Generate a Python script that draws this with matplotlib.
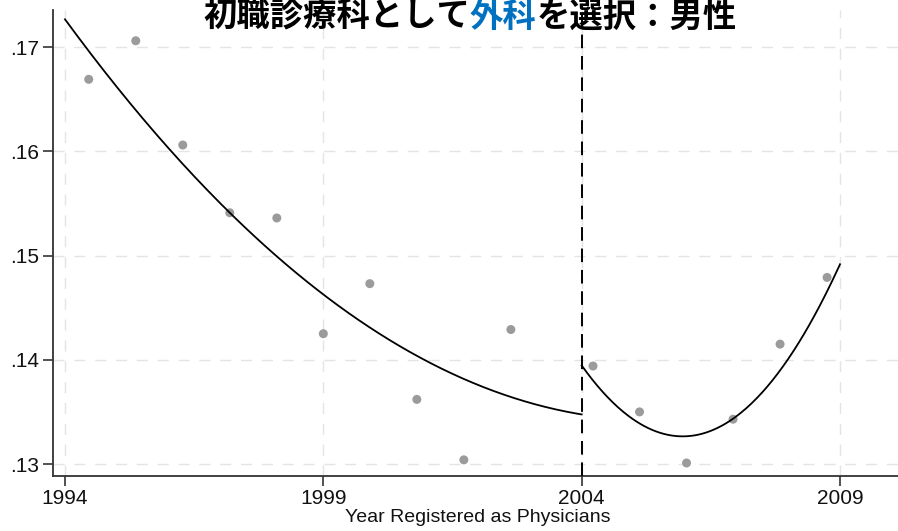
import numpy as np
import matplotlib
matplotlib.use("Agg")
import matplotlib.pyplot as plt

# Binned means of the share choosing surgery (male physicians)
years_pre = [1994.46, 1995.37, 1996.28, 1997.19, 1998.10,
             1999.00, 1999.90, 2000.81, 2001.72, 2002.63]
share_pre = [0.1669, 0.1706, 0.1606, 0.1541, 0.1536,
             0.1425, 0.1473, 0.1362, 0.1304, 0.1429]
years_post = [2004.22, 2005.12, 2006.03, 2006.93, 2007.84, 2008.75]
share_post = [0.1394, 0.1350, 0.1301, 0.1343, 0.1415, 0.1479]

# Quadratic fit values on each side of the 2004 cutoff
fit_years_pre = [1994.0, 1996.28, 1997.19, 1999.0, 2001.3, 2002.7, 2004.0]
fit_vals_pre = [0.1724, 0.1592, 0.1542, 0.1462, 0.1389, 0.1360, 0.1351]
fit_years_post = [2004.0, 2005.12, 2006.03, 2006.93, 2007.84, 2009.0]
fit_vals_post = [0.1396, 0.1339, 0.1322, 0.1342, 0.1398, 0.1488]

cutoff = 2004
x_ticks = [1994, 1999, 2004, 2009]
y_ticks = [0.13, 0.14, 0.15, 0.16, 0.17]
y_tick_labels = [".13", ".14", ".15", ".16", ".17"]
title_parts = [("初職診療科として", "black"), ("外科", "#0070C0"), ("を選択：男性", "black")]
x_label = "Year Registered as Physicians"

W, H = 898, 531
fig = plt.figure(figsize=(W / 100, H / 100), dpi=100)
ax_left, ax_right, ax_top, ax_bottom = 53.3, 902.0, 10.0, 475.7
ax = fig.add_axes([ax_left / W, 1 - ax_bottom / H,
                   (ax_right - ax_left) / W, (ax_bottom - ax_top) / H])

grid_kw = dict(color="#e4e4e4", lw=1.0, dashes=(8, 7), zorder=0)
for yv in y_ticks:
    ax.axhline(yv, **grid_kw)
for xv in x_ticks:
    ax.axvline(xv, **grid_kw)

ax.scatter(years_pre, share_pre, s=42, color="#9b9b9b", edgecolors="none", zorder=2)
ax.scatter(years_post, share_post, s=42, color="#9b9b9b", edgecolors="none", zorder=2)

for fy, fv, lo, hi in [(fit_years_pre, fit_vals_pre, 1994.0, cutoff),
                       (fit_years_post, fit_vals_post, cutoff, 2009.0)]:
    coef = np.polyfit(fy, fv, 2)
    xs = np.linspace(lo, hi, 200)
    ax.plot(xs, np.polyval(coef, xs), color="black", lw=1.3, zorder=3)

ax.axvline(cutoff, color="black", lw=1.4, dashes=(7, 4), zorder=4)

ax.set_xlim(1993.774, 2010.2)
ax.set_ylim(0.12888, 0.17355)
ax.set_xticks(x_ticks)
ax.set_xticklabels([str(v) for v in x_ticks])
ax.set_yticks(y_ticks)
ax.set_yticklabels(y_tick_labels)

for side in ("top", "right"):
    ax.spines[side].set_visible(False)
for side in ("left", "bottom"):
    ax.spines[side].set_color("#333333")
    ax.spines[side].set_linewidth(1.3)

ax.tick_params(axis="both", colors="#222222", width=1.1, labelcolor="#111111")
ax.tick_params(axis="y", length=7, pad=3)
ax.tick_params(axis="x", length=7.5, pad=2)
for lab in ax.get_xticklabels() + ax.get_yticklabels():
    lab.set_fontfamily("Liberation Sans")
    lab.set_fontsize(15)

ax.set_xlabel(x_label, fontfamily="Liberation Sans", fontsize=14, labelpad=1, color="#111111")

# Title drawn piece by piece so the specialty name can take its own colour
renderer = fig.canvas.get_renderer()
title_kw = dict(family=["Noto Sans CJK JP", "DejaVu Sans"], weight="bold", size=24,
                va="center", ha="left")
pieces = []
for txt, col in title_parts:
    pieces.append(fig.text(0, 1 - 17 / H, txt, color=col, **title_kw))
widths = [p.get_window_extent(renderer).width for p in pieces]
x0 = (470 - sum(widths) / 2)
for p, w in zip(pieces, widths):
    p.set_x(x0 / W)
    x0 += w

fig.savefig("out.png", dpi=100)
